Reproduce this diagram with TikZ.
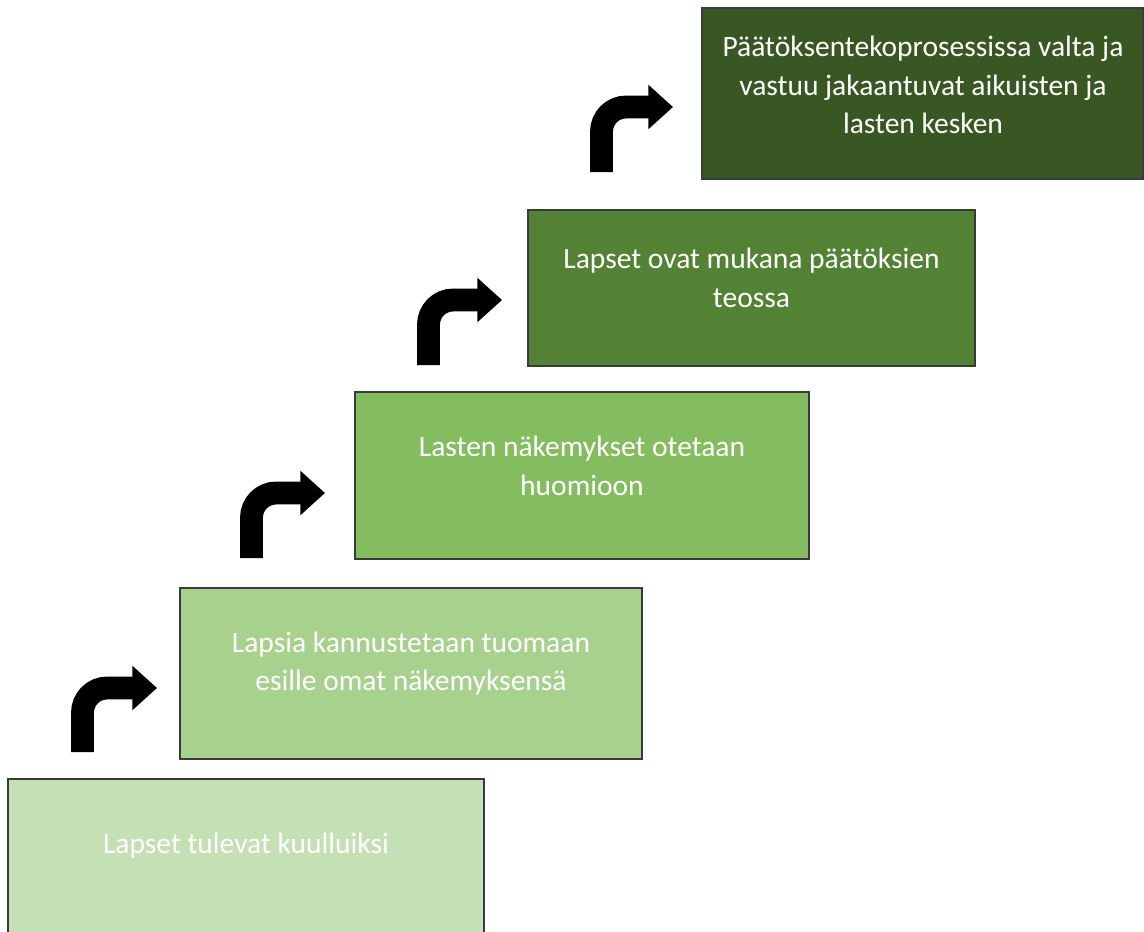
\documentclass[tikz,border=0pt]{standalone}
\usepackage{fontspec}
\setmainfont{Carlito}
\usepackage{tikz}
\usetikzlibrary{arrows.meta}
\definecolor{StepA}{HTML}{C5E0B4}
\definecolor{StepB}{HTML}{A9D18E}
\definecolor{StepC}{HTML}{84BC60}
\definecolor{StepD}{HTML}{548235}
\definecolor{StepE}{HTML}{385723}
\definecolor{BoxLine}{HTML}{3A3A3A}
\tikzstyle{none}=[inner sep=0pt]
\tikzstyle{stepbox}=[draw=BoxLine,line width=0.7pt,inner sep=0pt]
\tikzstyle{steptext}=[inner sep=0pt,text=white,align=center,font=\fontsize{16.8}{22}\selectfont]
\tikzstyle{bent}=[draw=black,line width=13pt,rounded corners=14pt,-{Triangle[length=14pt,width=24.4pt]}]

\begin{document}
\begin{tikzpicture}[x=0.02cm,y=-0.02cm]
 \useasboundingbox (0,0) rectangle (1144,931);
 % steps
 \node [style=stepbox,fill=StepA,minimum width=9.52cm,minimum height=3.4cm]  (0) at (246,864) {};
 \node [style=stepbox,fill=StepB,minimum width=9.24cm,minimum height=3.42cm] (1) at (411,673.5) {};
 \node [style=stepbox,fill=StepC,minimum width=9.08cm,minimum height=3.34cm] (2) at (582,475.5) {};
 \node [style=stepbox,fill=StepD,minimum width=8.94cm,minimum height=3.12cm] (3) at (751.5,288) {};
 \node [style=stepbox,fill=StepE,minimum width=8.82cm,minimum height=3.42cm] (4) at (922.5,93.5) {};
 % texts
 \node [style=steptext] (5) at (246,846)   {Lapset tulevat kuulluiksi};
 \node [style=steptext] (6) at (411,663.5) {Lapsia kannustetaan tuomaan\\esille omat näkemyksensä};
 \node [style=steptext] (7) at (582,466)   {Lasten näkemykset otetaan\\huomioon};
 \node [style=steptext] (8) at (751.5,278) {Lapset ovat mukana päätöksien\\teossa};
 \node [style=steptext] (9) at (923,85)    {Päätöksentekoprosessissa valta ja\\vastuu jakaantuvat aikuisten ja\\lasten kesken};
 % arrow ends
 \node [style=none] (10) at (82.5,752) {};
 \node [style=none] (11) at (157,688) {};
 \node [style=none] (12) at (251.5,558) {};
 \node [style=none] (13) at (325,493) {};
 \node [style=none] (14) at (428.5,365) {};
 \node [style=none] (15) at (502,300) {};
 \node [style=none] (16) at (601.5,172) {};
 \node [style=none] (17) at (673,107) {};
 \draw [style=bent] (10.center) |- (11.center);
 \draw [style=bent] (12.center) |- (13.center);
 \draw [style=bent] (14.center) |- (15.center);
 \draw [style=bent] (16.center) |- (17.center);
\end{tikzpicture}
\end{document}
